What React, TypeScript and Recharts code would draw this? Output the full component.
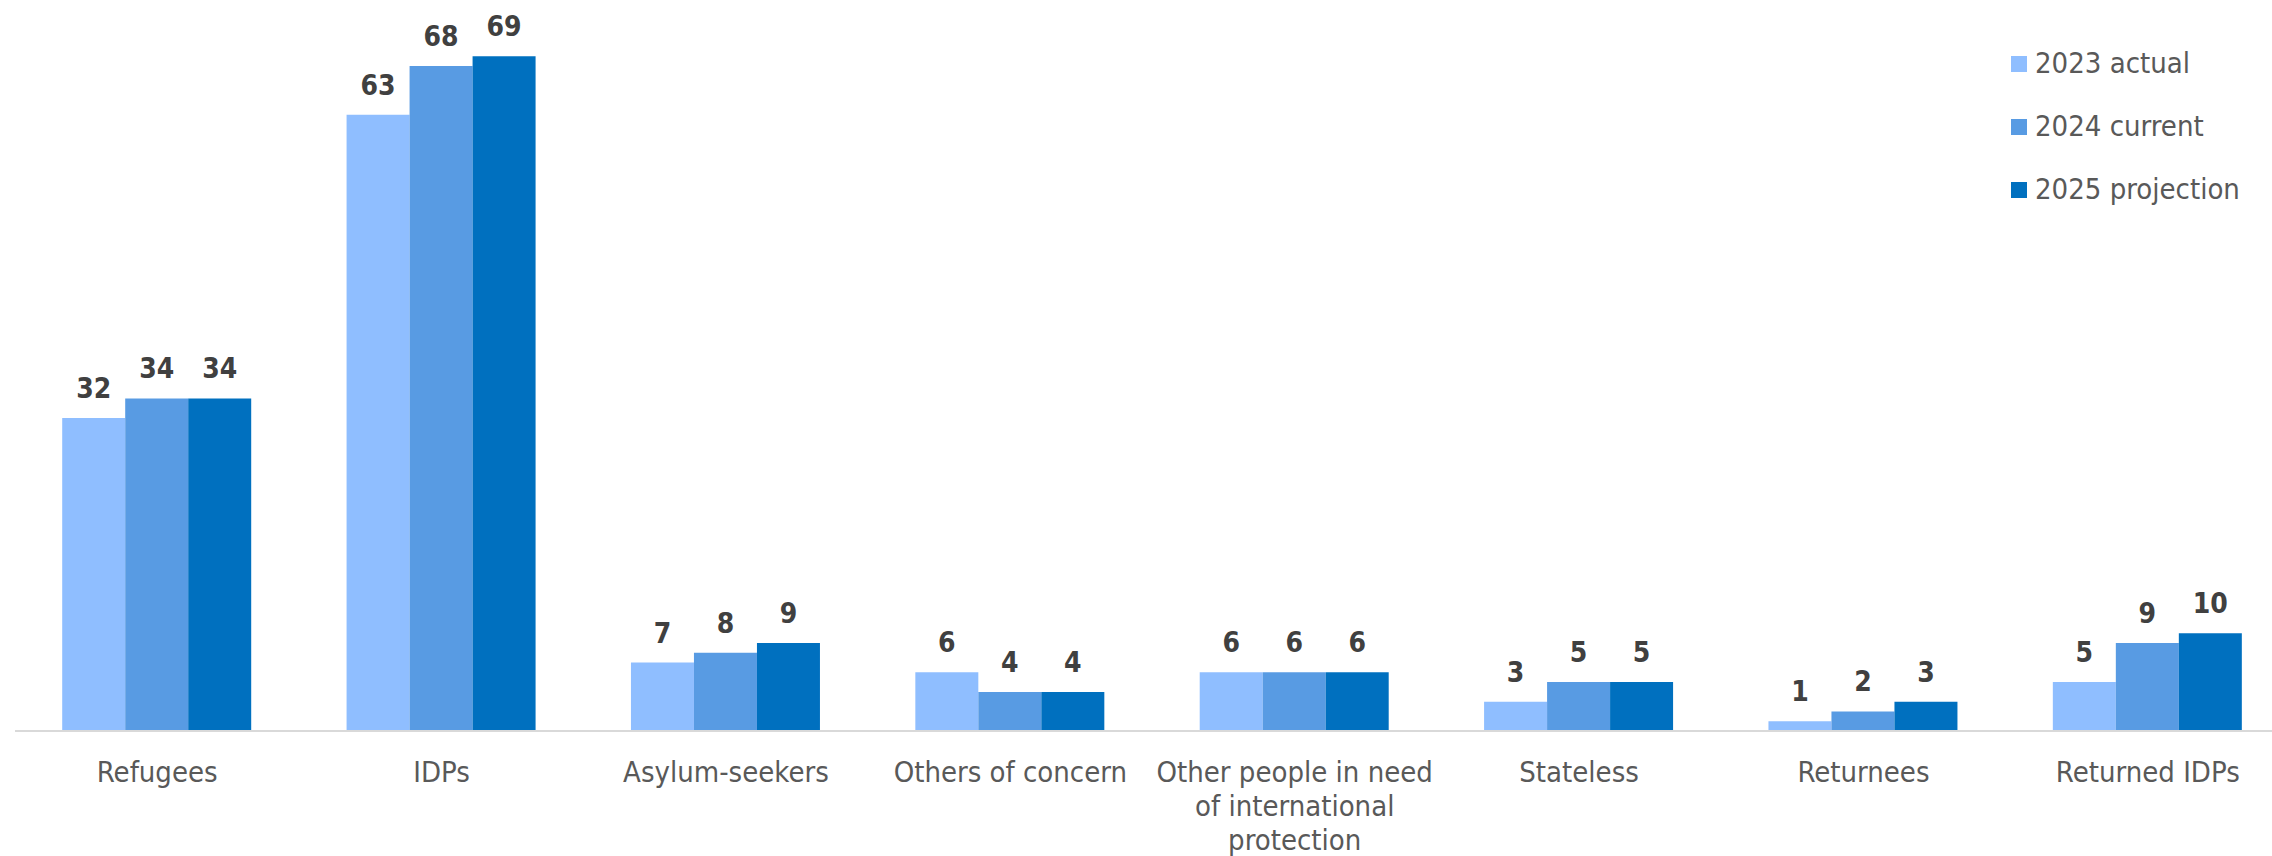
import React from 'react';
import { BarChart, Bar, XAxis, YAxis, LabelList } from 'recharts';

const categories = [
  'Refugees',
  'IDPs',
  'Asylum-seekers',
  'Others of concern',
  'Other people in need of international protection',
  'Stateless',
  'Returnees',
  'Returned IDPs',
];
const actual2023 = [32, 63, 7, 6, 6, 3, 1, 5];
const current2024 = [34, 68, 8, 4, 6, 5, 2, 9];
const projection2025 = [34, 69, 9, 4, 6, 5, 3, 10];
const seriesKeys = ['a2023', 'c2024', 'p2025'];
const seriesNames = ['2023 actual', '2024 current', '2025 projection'];
const seriesColors = ['#8FBEFF', '#589BE3', '#0070BF'];

const data = categories.map((category, i) => ({
  category,
  a2023: actual2023[i],
  c2024: current2024[i],
  p2025: projection2025[i],
}));

const FONT = "'DejaVu Sans Condensed', 'DejaVu Sans', sans-serif";

function wrap(text: string, max = 20): string[] {
  const words = text.split(' ');
  const lines: string[] = [];
  let cur = '';
  for (const w of words) {
    const next = cur ? cur + ' ' + w : w;
    if (next.length > max && cur) {
      lines.push(cur);
      cur = w;
    } else {
      cur = next;
    }
  }
  if (cur) lines.push(cur);
  return lines;
}

const CategoryTick = (props: any) => {
  const { x, y, payload } = props;
  const lines = wrap(String(payload.value));
  return (
    <text x={x} y={y} textAnchor="middle" fill="#595959" fontSize={29} fontFamily={FONT}>
      {lines.map((l, i) => (
        <tspan key={i} x={x} y={y + 51 + i * 34}>
          {l}
        </tspan>
      ))}
    </text>
  );
};

export default function App() {
  return (
    <div
      style={{
        position: 'absolute',
        left: 0,
        top: 0,
        width: 2272,
        height: 856,
        overflow: 'hidden',
        background: '#fff',
      }}
    >
      <BarChart
        width={2300}
        height={856}
        data={data}
        margin={{ top: 46.4, right: 10, left: 15, bottom: 0 }}
        barCategoryGap="16.6%"
        barGap={0}
      >
        <XAxis
          dataKey="category"
          height={125}
          tickSize={0}
          tickMargin={0}
          tickLine={false}
          interval={0}
          axisLine={{ stroke: '#d9d9d9', strokeWidth: 2 }}
          tick={<CategoryTick />}
        />
        <YAxis hide domain={[0, 70]} allowDataOverflow />
        {seriesKeys.map((k, i) => (
          <Bar key={k} dataKey={k} name={seriesNames[i]} fill={seriesColors[i]} isAnimationActive={false}>
            <LabelList
              dataKey={k}
              position="top"
              offset={20}
              fill="#404040"
              fontSize={28}
              fontWeight={700}
              fontFamily={FONT}
            />
          </Bar>
        ))}
      </BarChart>
      <div style={{ position: 'absolute', left: 2011, top: 32, fontFamily: FONT }}>
        {seriesNames.map((n, i) => (
          <div key={n} style={{ height: 63, display: 'flex', alignItems: 'center' }}>
            <div style={{ width: 16, height: 16, background: seriesColors[i], marginRight: 8 }} />
            <span style={{ fontSize: 29, color: '#595959', lineHeight: '63px' }}>{n}</span>
          </div>
        ))}
      </div>
    </div>
  );
}
